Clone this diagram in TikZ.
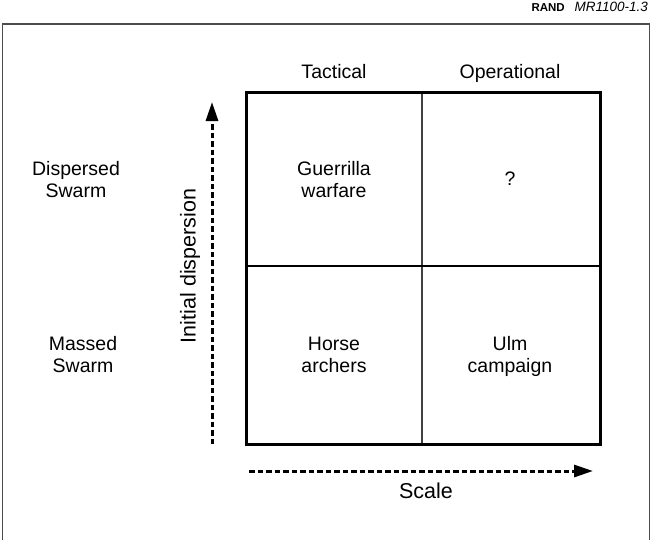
\documentclass[tikz,border=0pt]{standalone}
\usepackage{fontspec}
\setmainfont{Liberation Sans}
\usetikzlibrary{arrows.meta}
\begin{document}
\begin{tikzpicture}[x=1pt,y=-1pt,
  lbl/.style={font=\fontsize{19.5}{22.5}\selectfont, align=center, inner sep=0pt},
  axlbl/.style={font=\fontsize{21.5}{24}\selectfont, inner sep=0pt},
  grid/.style={line width=3pt, line cap=rect},
  axis/.style={line width=3pt, dash pattern=on 5.5pt off 3pt, -{Triangle[length=19pt,width=12pt]}},
  frame/.style={line width=1.4pt, draw=black!70}]
\useasboundingbox (0,0) rectangle (651,539);
% outer frame (open at bottom)
\draw[frame] (2.5,545) -- (2.5,24) -- (649.5,24) -- (649.5,545);
% header
\node[anchor=base east, inner sep=0pt, font=\fontsize{13.5}{15}\selectfont] (id) at (648,11) {\textit{MR1100-1.3}};
\node[anchor=base east, inner sep=0pt, font=\fontsize{11.5}{13}\selectfont\bfseries] (rand) at (565,11) {RAND};
% grid
\coordinate (mt) at (422,92);
\coordinate (mb) at (422,444);
\coordinate (ml) at (246,266);
\coordinate (mr) at (600,266);
\draw[line width=2.2pt, draw=black!75] (mt) -- (mb);
\draw[line width=1.2pt] (ml) -- (mr);
\draw[grid] (246,92) rectangle (600,444);
% column headers
\node[lbl] (tac) at (334,74) {Tactical\strut};
\node[lbl] (op) at (510,74) {Operational\strut};
% row labels
\node[lbl] (ds) at (76,182) {Dispersed\strut\\Swarm\strut};
\node[lbl] (ms) at (83,357) {Massed\strut\\Swarm\strut};
% cells
\node[lbl] (gw) at (334,182) {Guerrilla\strut\\warfare\strut};
\node[lbl] (q) at (510,181) {?\strut};
\node[lbl] (ha) at (334,357) {Horse\strut\\archers\strut};
\node[lbl] (ulm) at (510,357) {Ulm\strut\\campaign\strut};
% axes
\coordinate (v0) at (212,444);
\coordinate (v1) at (212,102);
\draw[axis] (v0) -- (v1);
\coordinate (h0) at (249,471);
\coordinate (h1) at (593,471);
\draw[axis] (h0) -- (h1);
\node[axlbl, rotate=90] (idl) at (190,266) {Initial dispersion};
\node[axlbl] (sc) at (426,491) {Scale};
\end{tikzpicture}
\end{document}
